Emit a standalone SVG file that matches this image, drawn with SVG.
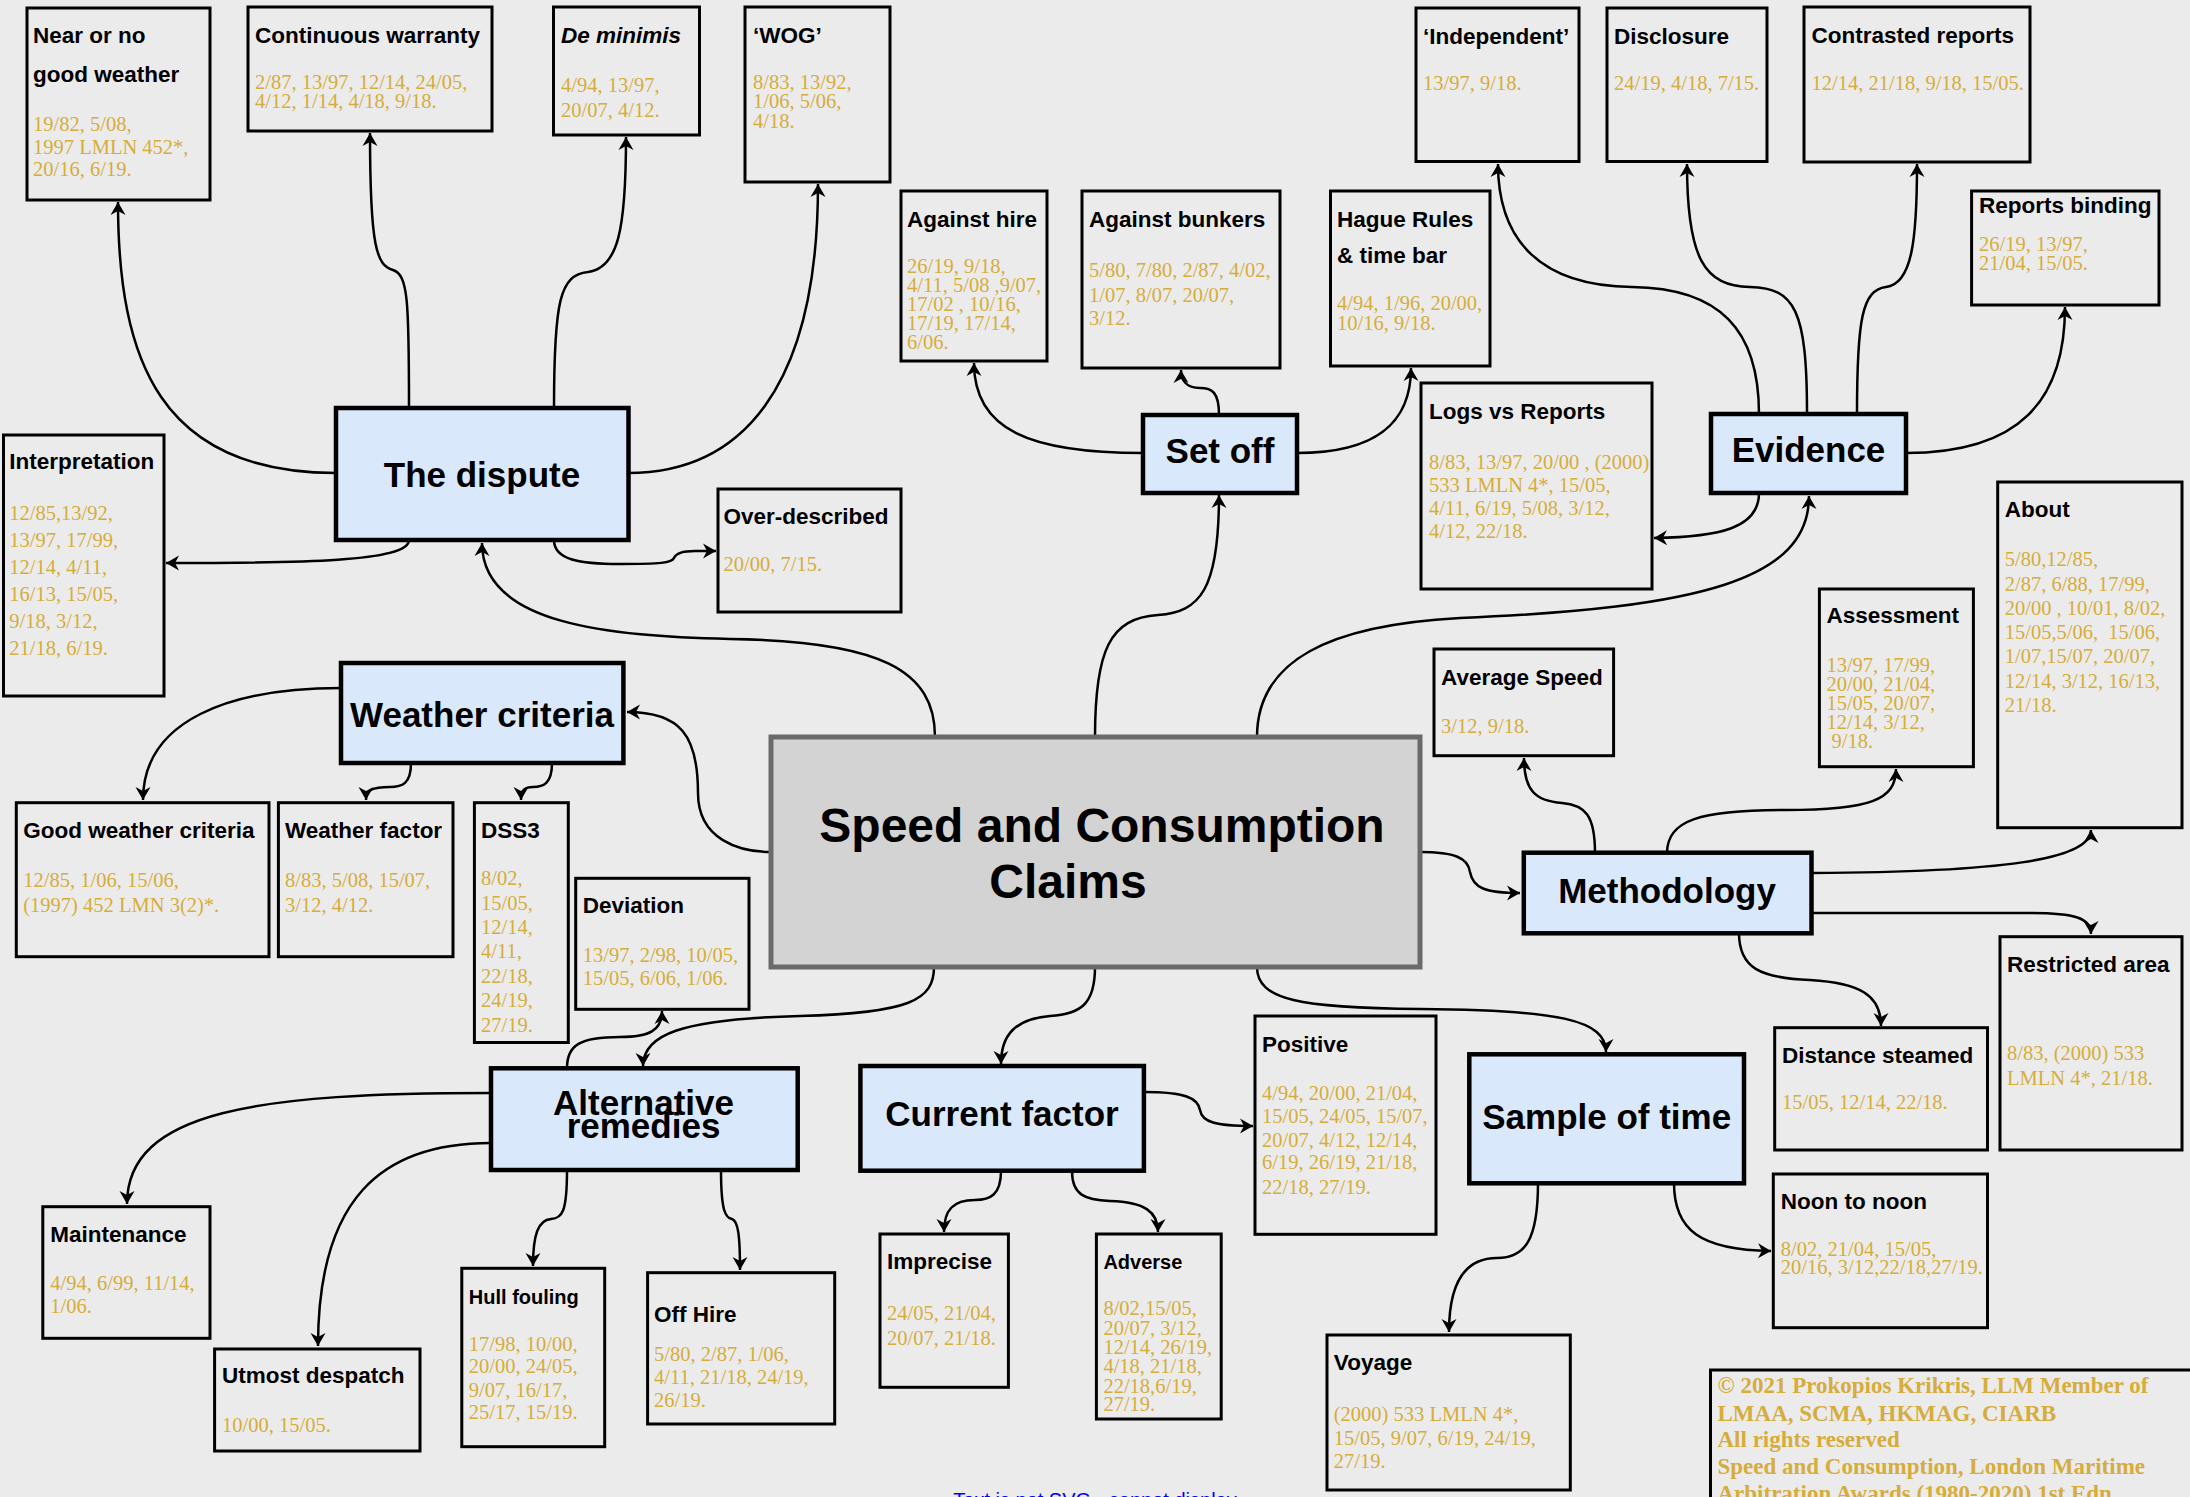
<svg xmlns="http://www.w3.org/2000/svg" width="2190" height="1497" viewBox="0 0 2190 1497">
<style>
.bg{fill:#ebebeb}
.leaf{fill:none;stroke:#000;stroke-width:3}
.main{fill:#dae8fc;stroke:#000;stroke-width:4.5}
.core{fill:#d3d3d3;stroke:#6a6a6a;stroke-width:5}
.t{font-family:"Liberation Sans",Arial,Helvetica,sans-serif;font-weight:bold;font-size:22.5px;fill:#000}
.ts{font-size:20px}
.r{font-family:"Liberation Serif","Times New Roman",serif;font-size:20.5px;fill:#d6ad3c}
.m{font-family:"Liberation Sans",Arial,Helvetica,sans-serif;font-weight:bold;font-size:35px;fill:#000;text-anchor:middle}
.big{font-size:48px}
.c{font-family:"Liberation Serif","Times New Roman",serif;font-weight:bold;font-size:23px;fill:#d6ad3c}
.e{fill:none;stroke:#000;stroke-width:2.5;marker-end:url(#arr)}
.lnk{font-family:"Liberation Sans",Arial,Helvetica,sans-serif;font-size:20px;fill:#0000ff;text-anchor:middle}
</style>
<defs>
<marker id="arr" markerUnits="userSpaceOnUse" viewBox="-15 -10 20 20" markerWidth="20" markerHeight="20" refX="0" refY="0" orient="auto" overflow="visible">
<path d="M0 0 L-13 -7.5 L-9 0 L-13 7.5 Z" fill="#000"/>
</marker>
</defs>
<rect class="bg" x="0" y="0" width="2190" height="1497"/>

<g id="connectors">
<path class="e" d="M336 473 C160 473 118 360 118 202"/>
<path class="e" d="M409 408 C409 300 408 275 393 270 C377 265 370 250 370 133"/>
<path class="e" d="M554 408 C554 300 560 275 588 272 C618 268 626 230 626 137"/>
<path class="e" d="M628 473 C740 473 818 390 818 184"/>
<path class="e" d="M409 540 C409 562 300 563 166 563"/>
<path class="e" d="M554 540 C554 560 580 564 620 564 C660 564 672 563 674 558 C676 553 682 551 695 551 L716 551"/>
<path class="e" d="M935 737 C935 670 880 641 730 639 C610 636 482 625 482 543"/>
<path class="e" d="M1095 737 C1095 650 1110 618 1158 615 C1200 612 1219 590 1219 495"/>
<path class="e" d="M1143 453 C1030 453 974 430 974 363"/>
<path class="e" d="M1219 415 C1219 392 1212 388 1200 388 C1186 388 1181 380 1181 370"/>
<path class="e" d="M1297 453 C1380 453 1411 420 1411 368"/>
<path class="e" d="M1257 737 C1257 660 1330 625 1460 618 C1700 608 1809 580 1809 496"/>
<path class="e" d="M1759 414 C1759 330 1720 288 1632 287 C1540 286 1498 240 1498 164"/>
<path class="e" d="M1807 414 C1807 310 1795 288 1750 287 C1705 286 1687 260 1687 164"/>
<path class="e" d="M1857 414 C1857 320 1862 290 1886 287 C1912 284 1917 240 1917 164"/>
<path class="e" d="M1906 453 C2020 453 2065 400 2065 307"/>
<path class="e" d="M1759 493 C1759 528 1720 537 1654 538"/>
<path class="e" d="M771 852 C740 852 698 840 698 793 C698 735 680 712 627 712"/>
<path class="e" d="M341 688 C230 688 143 720 143 800"/>
<path class="e" d="M411 763 C411 784 402 787 390 787 C372 787 366 790 366 800"/>
<path class="e" d="M552 763 C552 784 543 787 533 787 C525 787 521 790 521 800"/>
<path class="e" d="M934 967 C934 1000 910 1013 800 1016 C680 1019 643 1035 643 1066"/>
<path class="e" d="M567 1068 C567 1045 580 1037 620 1037 C650 1037 662 1030 662 1011"/>
<path class="e" d="M491 1093 C260 1093 127 1110 127 1204"/>
<path class="e" d="M491 1143 C380 1143 318 1200 318 1346"/>
<path class="e" d="M567 1170 C567 1213 562 1218 551 1219 C538 1220 533 1235 533 1266"/>
<path class="e" d="M721 1170 C721 1213 726 1218 732 1219 C738 1221 740 1235 740 1270"/>
<path class="e" d="M1095 967 C1095 1005 1080 1014 1050 1016 C1015 1019 1001 1035 1001 1064"/>
<path class="e" d="M1001 1171 C1001 1195 990 1200 975 1200 C953 1200 944 1210 944 1232"/>
<path class="e" d="M1072 1171 C1072 1195 1085 1200 1110 1201 C1145 1202 1158 1212 1158 1232"/>
<path class="e" d="M1144 1092 C1185 1092 1198 1098 1200 1110 C1202 1122 1215 1126 1253 1126"/>
<path class="e" d="M1257 967 C1257 1000 1300 1008 1420 1009 C1560 1010 1606 1020 1606 1052"/>
<path class="e" d="M1538 1183 C1538 1240 1525 1258 1497 1258 C1460 1258 1449 1290 1449 1332"/>
<path class="e" d="M1674 1183 C1674 1230 1700 1250 1771 1251"/>
<path class="e" d="M1420 852 C1455 852 1468 858 1470 872 C1473 888 1485 893 1520 893"/>
<path class="e" d="M1595 853 C1595 815 1585 805 1562 803 C1535 801 1524 790 1524 758"/>
<path class="e" d="M1667 853 C1667 820 1700 810 1786 810 C1870 810 1896 800 1896 769"/>
<path class="e" d="M1812 873 C2000 872 2091 860 2091 830"/>
<path class="e" d="M1812 913 L2030 913 C2075 913 2091 918 2091 934"/>
<path class="e" d="M1739 933 C1739 968 1760 978 1810 980 C1860 983 1881 995 1881 1026"/>
</g>

<g id="near">
<rect class="leaf" x="27" y="8" width="183" height="192"/>
<text class="t"><tspan x="33" y="43">Near or no</tspan><tspan x="33" y="82">good weather</tspan></text>
<text class="r"><tspan x="33" y="131">19/82, 5/08,</tspan><tspan x="33" y="153.5">1997 LMLN 452*,</tspan><tspan x="33" y="176">20/16, 6/19.</tspan></text>
</g>
<g id="warranty">
<rect class="leaf" x="248" y="7" width="244" height="124"/>
<text class="t" x="255" y="43">Continuous warranty</text>
<text class="r"><tspan x="255" y="89">2/87, 13/97, 12/14, 24/05,</tspan><tspan x="255" y="108">4/12, 1/14, 4/18, 9/18.</tspan></text>
</g>
<g id="deminimis">
<rect class="leaf" x="553.5" y="7" width="146" height="128"/>
<text class="t" x="561" y="43" font-style="italic">De minimis</text>
<text class="r"><tspan x="561" y="92">4/94, 13/97,</tspan><tspan x="561" y="117">20/07, 4/12.</tspan></text>
</g>
<g id="wog">
<rect class="leaf" x="745" y="7" width="145" height="175"/>
<text class="t" x="753" y="43">‘WOG’</text>
<text class="r"><tspan x="753" y="89">8/83, 13/92,</tspan><tspan x="753" y="108">1/06, 5/06,</tspan><tspan x="753" y="128">4/18.</tspan></text>
</g>
<g id="against-hire">
<rect class="leaf" x="901" y="191" width="146" height="170"/>
<text class="t" x="907" y="227">Against hire</text>
<text class="r"><tspan x="907" y="273">26/19, 9/18,</tspan><tspan x="907" y="292">4/11, 5/08 ,9/07,</tspan><tspan x="907" y="311">17/02 , 10/16,</tspan><tspan x="907" y="330">17/19, 17/14,</tspan><tspan x="907" y="349">6/06.</tspan></text>
</g>
<g id="against-bunkers">
<rect class="leaf" x="1082" y="191" width="198" height="177"/>
<text class="t" x="1089" y="227">Against bunkers</text>
<text class="r"><tspan x="1089" y="277">5/80, 7/80, 2/87, 4/02,</tspan><tspan x="1089" y="302">1/07, 8/07, 20/07,</tspan><tspan x="1089" y="325">3/12.</tspan></text>
</g>
<g id="hague">
<rect class="leaf" x="1330.5" y="191" width="159.5" height="175"/>
<text class="t"><tspan x="1337" y="227">Hague Rules</tspan><tspan x="1337" y="263">&amp; time bar</tspan></text>
<text class="r"><tspan x="1337" y="310">4/94, 1/96, 20/00,</tspan><tspan x="1337" y="330">10/16, 9/18.</tspan></text>
</g>
<g id="independent">
<rect class="leaf" x="1416" y="8" width="163" height="153.5"/>
<text class="t" x="1423" y="44">‘Independent’</text>
<text class="r" x="1423" y="90">13/97, 9/18.</text>
</g>
<g id="disclosure">
<rect class="leaf" x="1607" y="8" width="160" height="153.5"/>
<text class="t" x="1614" y="44">Disclosure</text>
<text class="r" x="1614" y="90">24/19, 4/18, 7/15.</text>
</g>
<g id="contrasted">
<rect class="leaf" x="1804" y="7" width="226" height="155"/>
<text class="t" x="1811.5" y="43">Contrasted reports</text>
<text class="r" x="1811.5" y="90">12/14, 21/18, 9/18, 15/05.</text>
</g>
<g id="reports-binding">
<rect class="leaf" x="1971.6" y="191" width="187.4" height="114"/>
<text class="t" x="1979" y="213">Reports binding</text>
<text class="r"><tspan x="1979" y="250.7">26/19, 13/97,</tspan><tspan x="1979" y="270">21/04, 15/05.</tspan></text>
</g>
<g id="logs">
<rect class="leaf" x="1421" y="383" width="231" height="206"/>
<text class="t" x="1429" y="419">Logs vs Reports</text>
<text class="r"><tspan x="1429" y="469">8/83, 13/97, 20/00 , (2000)</tspan><tspan x="1429" y="492">533 LMLN 4*, 15/05,</tspan><tspan x="1429" y="515">4/11, 6/19, 5/08, 3/12,</tspan><tspan x="1429" y="538">4/12, 22/18.</tspan></text>
</g>
<g id="evidence">
<rect class="main" x="1711" y="414" width="195" height="79"/>
<text class="m" x="1808.5" y="462">Evidence</text>
</g>
<g id="set-off">
<rect class="main" x="1143" y="415" width="154" height="78"/>
<text class="m" x="1220" y="463">Set off</text>
</g>
<g id="dispute">
<rect class="main" x="336" y="408" width="292.5" height="132"/>
<text class="m" x="482" y="487">The dispute</text>
</g>
<g id="interpretation">
<rect class="leaf" x="3.5" y="435" width="160.5" height="261"/>
<text class="t" x="9.3" y="469">Interpretation</text>
<text class="r"><tspan x="9.3" y="520">12/85,13/92,</tspan><tspan x="9.3" y="547">13/97, 17/99,</tspan><tspan x="9.3" y="574">12/14, 4/11,</tspan><tspan x="9.3" y="601">16/13, 15/05,</tspan><tspan x="9.3" y="628">9/18, 3/12,</tspan><tspan x="9.3" y="655">21/18, 6/19.</tspan></text>
</g>
<g id="over-described">
<rect class="leaf" x="718" y="489" width="183" height="123"/>
<text class="t" x="723.5" y="524">Over-described</text>
<text class="r" x="723.5" y="571">20/00, 7/15.</text>
</g>
<g id="weather-criteria">
<rect class="main" x="341" y="663" width="282.4" height="100"/>
<text class="m" x="482" y="727">Weather criteria</text>
</g>
<g id="good-weather">
<rect class="leaf" x="16.3" y="802.7" width="252.7" height="154"/>
<text class="t" x="23.3" y="838">Good weather criteria</text>
<text class="r"><tspan x="23.3" y="886.7">12/85, 1/06, 15/06,</tspan><tspan x="23.3" y="911.7">(1997) 452 LMN 3(2)*.</tspan></text>
</g>
<g id="weather-factor">
<rect class="leaf" x="278.4" y="802.7" width="174.6" height="154"/>
<text class="t" x="285" y="838">Weather factor</text>
<text class="r"><tspan x="285" y="886.7">8/83, 5/08, 15/07,</tspan><tspan x="285" y="911.7">3/12, 4/12.</tspan></text>
</g>
<g id="dss3">
<rect class="leaf" x="474.4" y="802.7" width="93.9" height="239.8"/>
<text class="t" x="481" y="838">DSS3</text>
<text class="r"><tspan x="481" y="885">8/02,</tspan><tspan x="481" y="910">15/05,</tspan><tspan x="481" y="934">12/14,</tspan><tspan x="481" y="958">4/11,</tspan><tspan x="481" y="983">22/18,</tspan><tspan x="481" y="1007">24/19,</tspan><tspan x="481" y="1032">27/19.</tspan></text>
</g>
<g id="deviation">
<rect class="leaf" x="575.7" y="878.3" width="173.3" height="131"/>
<text class="t" x="582.7" y="913.3">Deviation</text>
<text class="r"><tspan x="582.7" y="961.7">13/97, 2/98, 10/05,</tspan><tspan x="582.7" y="985">15/05, 6/06, 1/06.</tspan></text>
</g>
<g id="center">
<rect class="core" x="771" y="737" width="649" height="230"/>
<text class="m big" x="1102" y="842">Speed and Consumption</text>
<text class="m big" x="1068" y="898">Claims</text>
</g>
<g id="average-speed">
<rect class="leaf" x="1434" y="649" width="179.6" height="106.7"/>
<text class="t" x="1441" y="685">Average Speed</text>
<text class="r" x="1441" y="733">3/12, 9/18.</text>
</g>
<g id="assessment">
<rect class="leaf" x="1819.4" y="589" width="154" height="177.7"/>
<text class="t" x="1826.4" y="623.3">Assessment</text>
<text class="r"><tspan x="1826.4" y="671.7">13/97, 17/99,</tspan><tspan x="1826.4" y="691">20/00, 21/04,</tspan><tspan x="1826.4" y="710">15/05, 20/07,</tspan><tspan x="1826.4" y="729.3">12/14, 3/12,</tspan><tspan x="1831.5" y="748.3">9/18.</tspan></text>
</g>
<g id="about">
<rect class="leaf" x="1997.7" y="482" width="184.3" height="345.7"/>
<text class="t" x="2004.7" y="516.7">About</text>
<text class="r" xml:space="preserve"><tspan x="2004.7" y="566">5/80,12/85,</tspan><tspan x="2004.7" y="590.7">2/87, 6/88, 17/99,</tspan><tspan x="2004.7" y="615">20/00 , 10/01, 8/02,</tspan><tspan x="2004.7" y="639.3">15/05,5/06,  15/06,</tspan><tspan x="2004.7" y="663.3">1/07,15/07, 20/07,</tspan><tspan x="2004.7" y="687.7">12/14, 3/12, 16/13,</tspan><tspan x="2004.7" y="711.7">21/18.</tspan></text>
</g>
<g id="methodology">
<rect class="main" x="1523.8" y="852.7" width="287.7" height="80.6"/>
<text class="m" x="1667" y="903.3">Methodology</text>
</g>
<g id="restricted">
<rect class="leaf" x="2000" y="936.7" width="182" height="213.3"/>
<text class="t" x="2007" y="971.7">Restricted area</text>
<text class="r"><tspan x="2007" y="1060">8/83, (2000) 533</tspan><tspan x="2007" y="1085">LMLN 4*, 21/18.</tspan></text>
</g>
<g id="distance">
<rect class="leaf" x="1774.7" y="1027.7" width="212.8" height="122.3"/>
<text class="t" x="1782" y="1063.3">Distance steamed</text>
<text class="r" x="1782" y="1109">15/05, 12/14, 22/18.</text>
</g>
<g id="sample">
<rect class="main" x="1469.3" y="1054.3" width="274.7" height="129"/>
<text class="m" x="1606.7" y="1129.3">Sample of time</text>
</g>
<g id="noon">
<rect class="leaf" x="1773.3" y="1174" width="214.2" height="153.7"/>
<text class="t" x="1780.8" y="1209.3">Noon to noon</text>
<text class="r"><tspan x="1780.8" y="1256">8/02, 21/04, 15/05,</tspan><tspan x="1780.8" y="1274.3">20/16, 3/12,22/18,27/19.</tspan></text>
</g>
<g id="alternative">
<rect class="main" x="491" y="1068.3" width="306.7" height="101.7"/>
<text class="m"><tspan x="643.5" y="1115">Alternative</tspan><tspan x="643.5" y="1138">remedies</tspan></text>
</g>
<g id="current">
<rect class="main" x="860.4" y="1066" width="283.5" height="104.7"/>
<text class="m" x="1002" y="1126">Current factor</text>
</g>
<g id="positive">
<rect class="leaf" x="1255" y="1016" width="181" height="218.3"/>
<text class="t" x="1262" y="1051.7">Positive</text>
<text class="r"><tspan x="1262" y="1100">4/94, 20/00, 21/04,</tspan><tspan x="1262" y="1123.3">15/05, 24/05, 15/07,</tspan><tspan x="1262" y="1146.7">20/07, 4/12, 12/14,</tspan><tspan x="1262" y="1169.3">6/19, 26/19, 21/18,</tspan><tspan x="1262" y="1194">22/18, 27/19.</tspan></text>
</g>
<g id="maintenance">
<rect class="leaf" x="42.8" y="1206.7" width="167.2" height="131.6"/>
<text class="t" x="50.3" y="1241.7">Maintenance</text>
<text class="r"><tspan x="50.3" y="1290">4/94, 6/99, 11/14,</tspan><tspan x="50.3" y="1313.3">1/06.</tspan></text>
</g>
<g id="utmost">
<rect class="leaf" x="214.6" y="1349" width="205.4" height="102"/>
<text class="t" x="222" y="1383.3">Utmost despatch</text>
<text class="r" x="222" y="1431.7">10/00, 15/05.</text>
</g>
<g id="hull">
<rect class="leaf" x="461.8" y="1268.3" width="142.9" height="178.4"/>
<text class="t ts" x="468.8" y="1304">Hull fouling</text>
<text class="r"><tspan x="468.8" y="1350.7">17/98, 10/00,</tspan><tspan x="468.8" y="1373.3">20/00, 24/05,</tspan><tspan x="468.8" y="1396.7">9/07, 16/17,</tspan><tspan x="468.8" y="1419.3">25/17, 15/19.</tspan></text>
</g>
<g id="off-hire">
<rect class="leaf" x="647.6" y="1272.7" width="187.1" height="151.3"/>
<text class="t" x="654" y="1322.3">Off Hire</text>
<text class="r"><tspan x="654" y="1361">5/80, 2/87, 1/06,</tspan><tspan x="654" y="1384.3">4/11, 21/18, 24/19,</tspan><tspan x="654" y="1407.3">26/19.</tspan></text>
</g>
<g id="imprecise">
<rect class="leaf" x="880" y="1234" width="128.4" height="153.3"/>
<text class="t" x="887" y="1269.3">Imprecise</text>
<text class="r"><tspan x="887" y="1320">24/05, 21/04,</tspan><tspan x="887" y="1345">20/07, 21/18.</tspan></text>
</g>
<g id="adverse">
<rect class="leaf" x="1096.4" y="1234" width="124.8" height="185"/>
<text class="t ts" x="1103.4" y="1269.3">Adverse</text>
<text class="r"><tspan x="1103.4" y="1315">8/02,15/05,</tspan><tspan x="1103.4" y="1335">20/07, 3/12,</tspan><tspan x="1103.4" y="1354">12/14, 26/19,</tspan><tspan x="1103.4" y="1373.3">4/18, 21/18,</tspan><tspan x="1103.4" y="1392.7">22/18,6/19,</tspan><tspan x="1103.4" y="1411">27/19.</tspan></text>
</g>
<g id="voyage">
<rect class="leaf" x="1327" y="1335" width="243.3" height="155"/>
<text class="t" x="1333.8" y="1370">Voyage</text>
<text class="r"><tspan x="1333.8" y="1420.7">(2000) 533 LMLN 4*,</tspan><tspan x="1333.8" y="1445">15/05, 9/07, 6/19, 24/19,</tspan><tspan x="1333.8" y="1468.3">27/19.</tspan></text>
</g>
<g id="copyright">
<rect class="leaf" x="1710.5" y="1370" width="520" height="160"/>
<text class="c"><tspan x="1717.5" y="1393.3">© 2021 Prokopios Krikris, LLM Member of</tspan><tspan x="1717.5" y="1420.7">LMAA, SCMA, HKMAG, CIARB</tspan><tspan x="1717.5" y="1447.3">All rights reserved</tspan><tspan x="1717.5" y="1474">Speed and Consumption, London Maritime</tspan><tspan x="1717.5" y="1500.7">Arbitration Awards (1980-2020) 1st Edn</tspan></text>
</g>
<text class="lnk" x="1095" y="1507">Text is not SVG - cannot display</text>
</svg>
